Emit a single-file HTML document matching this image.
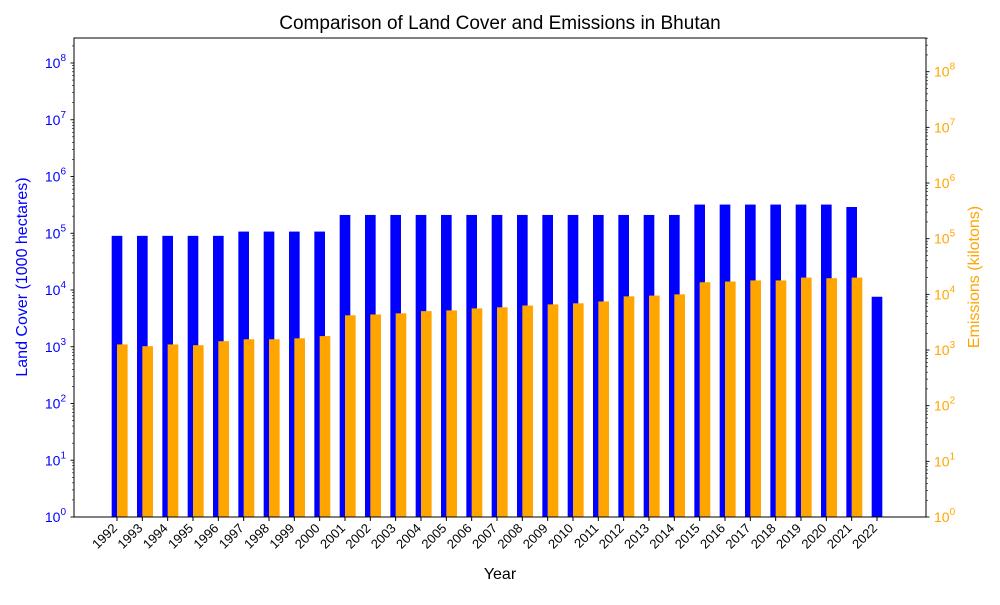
<!DOCTYPE html>
<html><head><meta charset="utf-8"><style>body{margin:0;background:#fff}svg{font-family:"Liberation Sans","DejaVu Sans",sans-serif}</style></head>
<body>
<svg id="c" width="1000" height="600" xmlns="http://www.w3.org/2000/svg"></svg>
<script>
const years=[1992,1993,1994,1995,1996,1997,1998,1999,2000,2001,2002,2003,2004,2005,2006,2007,2008,2009,2010,2011,2012,2013,2014,2015,2016,2017,2018,2019,2020,2021,2022];
const landCover=[90000,90000,90000,90000,90000,107000,107000,107000,107000,210000,210000,210000,210000,210000,210000,210000,210000,210000,210000,210000,210000,210000,210000,320000,320000,320000,320000,320000,320000,290000,7600];
const emissions=[1260,1170,1260,1220,1440,1560,1560,1620,1780,4200,4350,4560,5000,5150,5600,5850,6300,6600,6900,7450,9200,9500,10000,16500,17000,17800,17800,20000,19500,20000,null];
const L=74,R=926,T=38,B=517;
const NS="http://www.w3.org/2000/svg";
const svg=document.getElementById('c');
function el(t,a,p){const e=document.createElementNS(NS,t);for(const k in a)e.setAttribute(k,a[k]);(p||svg).appendChild(e);return e;}
const yL=v=>B-Math.log10(v)*(B-63)/8;
const yR=v=>B-Math.log10(v)*(B-71.7)/8;
const step=(877-117)/30;
const xs=i=>117+i*step;
const bw=0.42*step;
years.forEach((y,i)=>{
  const b=el('rect',{x:xs(i)-bw/2,y:yL(landCover[i]),width:bw,height:B-yL(landCover[i]),fill:'#0000ff'});
  
  
  if(emissions[i]!=null){
    const o=el('rect',{x:xs(i),y:yR(emissions[i]),width:bw,height:B-yR(emissions[i]),fill:'#ffa500'});
    
    
  }
  el('line',{x1:xs(i),x2:xs(i),y1:B,y2:B+4,stroke:'#000'});
  const t=el('text',{x:xs(i)+1,y:B+12,'font-size':13,'text-anchor':'end',transform:`rotate(-45 ${xs(i)+1} ${B+12})`});
  t.textContent=y;
  
  
});
el('rect',{x:L,y:T,width:R-L,height:B-T,fill:'none',stroke:'#000','stroke-width':1,});
function axis(side,fy,col,maxExp){
  const x=side=='l'?L:R, d=side=='l'?-1:1;
  for(let e=0;e<=maxExp;e++){
    for(let m=1;m<10;m++){
      const v=m*Math.pow(10,e), y=fy(v);
      if(y<T) break;
      el('line',{x1:x,x2:x+d*(m==1?3.5:2),y1:y,y2:y,stroke:'#000','stroke-width':m==1?0.9:0.6});
    }
    const y=fy(Math.pow(10,e));
    const t=el('text',{x:side=='l'?x-8:x+8,y:y+5,'font-size':14,fill:col,'text-anchor':side=='l'?'end':'start'});
    t.innerHTML='10<tspan dy="-7" font-size="10">'+e+'</tspan>';
    
    
  }
}
axis('l',yL,'#0000ff',8);
axis('r',yR,'#ffa500',8);
</script>
<div style="position:absolute;left:0;top:0;width:1000px;height:600px;pointer-events:none;font-family:'Liberation Sans',sans-serif">
<div style="position:absolute;left:0;width:1000px;top:13px;text-align:center;font-size:19px">Comparison of Land Cover and Emissions in Bhutan</div>
<div style="position:absolute;left:0;width:1000px;top:566px;text-align:center;font-size:16px">Year</div>
<div style="position:absolute;left:23px;top:277px;width:0;height:0"><div style="position:absolute;transform:translate(-50%,-50%) rotate(-90deg);white-space:nowrap;font-size:16px;color:#0000ff">Land Cover (1000 hectares)</div></div>
<div style="position:absolute;left:975px;top:277px;width:0;height:0"><div style="position:absolute;transform:translate(-50%,-50%) rotate(-90deg);white-space:nowrap;font-size:16px;color:#ffa500">Emissions (kilotons)</div></div>
</div>
</body></html>
